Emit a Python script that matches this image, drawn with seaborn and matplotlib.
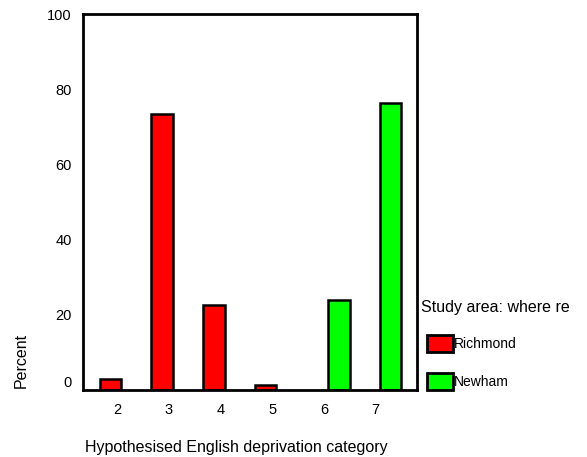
import seaborn as sns
import matplotlib.pyplot as plt
import matplotlib.transforms as mtransforms
import pandas as pd

# Deprivation category percentages per study area
categories = ['2', '3', '4', '5', '6', '7']
richmond_cats = ['2', '3', '4', '5']
richmond_pct = [2.8, 73.3, 22.5, 1.4]
newham_cats = ['6', '7']
newham_pct = [23.9, 76.3]

df = pd.DataFrame({
    'category': richmond_cats + newham_cats,
    'percent': richmond_pct + newham_pct,
    'area': ['Richmond'] * len(richmond_cats) + ['Newham'] * len(newham_cats),
})

sns.set_style('white')
plt.rcParams['font.family'] = ['Liberation Sans', 'DejaVu Sans']
plt.rcParams.update({'text.color': 'black', 'axes.labelcolor': 'black',
                     'xtick.color': 'black', 'ytick.color': 'black'})

fig = plt.figure(figsize=(5.87, 4.57), dpi=100)
ax = fig.add_axes([83 / 587, 67 / 457, 334 / 587, 376 / 457])

sns.barplot(data=df, x='category', y='percent', hue='area', order=categories,
            hue_order=['Richmond', 'Newham'], palette=['#ff0000', '#00ff00'],
            dodge=True, width=0.84, edgecolor='black', linewidth=1.8,
            saturation=1, ax=ax)

ax.set_ylim(0, 100)
ax.set_yticks(range(0, 101, 20))
ax.set_xlim(-0.74, 5.72)
for side in ax.spines.values():
    side.set_linewidth(2)
    side.set_color('black')
ax.tick_params(axis='y', direction='out', length=5, width=2, labelsize=10.5, pad=3)
ax.tick_params(axis='x', length=0, labelsize=10.5, pad=9)

# the zero label sits a bit above the baseline in the original
ax.get_yticklabels()[0].set_va('bottom')
shift = mtransforms.ScaledTranslation(-4 / 100, 0, fig.dpi_scale_trans)
for lab in ax.get_xticklabels():
    lab.set_transform(lab.get_transform() + shift)

ax.set_ylabel('Percent', fontsize=11.5)
ax.yaxis.set_label_coords(-0.162, 0.078)
ax.set_xlabel('Hypothesised English deprivation category', fontsize=11.5)
ax.xaxis.set_label_coords(0.458, -0.134)

leg = ax.legend(title='Study area: where re', loc='upper left',
                bbox_to_anchor=(421 / 587, 1 - 300 / 457), bbox_transform=fig.transFigure,
                frameon=False, fontsize=10, title_fontsize=11.5, borderpad=0,
                handlelength=1.87, handleheight=1.5, handletextpad=0.05,
                labelspacing=1.5, borderaxespad=0)
leg._legend_box.align = 'left'
leg._legend_box.sep = 10
leg._legend_handle_box.pad = 4.3  # indent the swatches under the title
for h in leg.legend_handles:
    h.set_edgecolor('black')
    h.set_linewidth(2)

fig.savefig('out.png', dpi=100)
